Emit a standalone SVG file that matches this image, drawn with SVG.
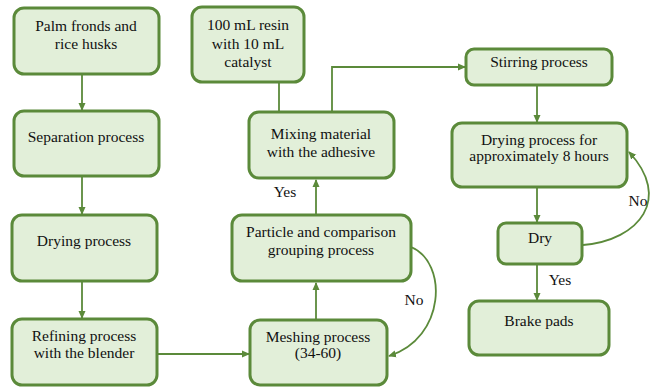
<svg xmlns="http://www.w3.org/2000/svg" width="657" height="389" viewBox="0 0 657 389">
<defs>
<style>
.box{fill:#e2efd9;stroke:#5b8a3a;stroke-width:3}
.t{font-family:'Liberation Serif','Times New Roman','DejaVu Serif',serif;font-size:15.5px;fill:#111;text-anchor:middle}
.c{fill:none;stroke:#5b8a3a;stroke-width:1.8}
</style>
<marker id="ah" markerWidth="8" markerHeight="8" refX="7" refY="4" orient="auto" markerUnits="userSpaceOnUse">
<path d="M0,0.5 L8,4 L0,7.5 Z" fill="#5b8a3a"/>
</marker>
</defs>
<rect width="657" height="389" fill="#fff"/>
<g id="connectors">
<line class="c" x1="82" y1="75" x2="82" y2="110" marker-end="url(#ah)"/>
<line class="c" x1="82" y1="177" x2="82" y2="214" marker-end="url(#ah)"/>
<line class="c" x1="82" y1="282" x2="82" y2="318" marker-end="url(#ah)"/>
<line class="c" x1="158" y1="354" x2="249" y2="354" marker-end="url(#ah)"/>
<line class="c" x1="316" y1="320" x2="316" y2="283" marker-end="url(#ah)"/>
<line class="c" x1="316" y1="214" x2="316" y2="180" marker-end="url(#ah)"/>
<line class="c" x1="279" y1="83" x2="279" y2="111"/>
<polyline class="c" points="332,111 332,67 465,67" marker-end="url(#ah)"/>
<line class="c" x1="537" y1="86" x2="537" y2="122" marker-end="url(#ah)"/>
<line class="c" x1="537" y1="188" x2="537" y2="222" marker-end="url(#ah)"/>
<line class="c" x1="537" y1="265" x2="537" y2="300" marker-end="url(#ah)"/>
<path class="c" d="M583,245 C640,240 672,198 629,152" marker-end="url(#ah)"/>
<path class="c" d="M411,247 C448,262 446,338 389,356" marker-end="url(#ah)"/>
<text class="t" x="285" y="197">Yes</text>
<text class="t" x="560" y="285">Yes</text>
<text class="t" x="414" y="305">No</text>
<text class="t" x="638" y="206">No</text>
</g>
<g id="n1"><rect class="box" x="14" y="8" width="145" height="66" rx="10"/>
<text class="t" x="86" y="31">Palm fronds and</text><text class="t" x="86" y="49">rice husks</text></g>
<g id="n2"><rect class="box" x="14" y="111" width="145" height="65" rx="10"/>
<text class="t" x="86" y="142">Separation process</text></g>
<g id="n3"><rect class="box" x="12" y="215" width="145" height="66" rx="10"/>
<text class="t" x="84" y="246">Drying process</text></g>
<g id="n4"><rect class="box" x="12" y="319" width="145" height="66" rx="10"/>
<text class="t" x="84" y="341">Refining process</text><text class="t" x="84" y="358">with the blender</text></g>
<g id="n5"><rect class="box" x="192" y="7" width="112" height="75" rx="10"/>
<text class="t" x="248" y="30">100 mL resin</text><text class="t" x="248" y="49">with 10 mL</text><text class="t" x="248" y="67">catalyst</text></g>
<g id="n6"><rect class="box" x="249" y="112" width="145" height="66" rx="10"/>
<text class="t" x="321" y="139">Mixing material</text><text class="t" x="321" y="157">with the adhesive</text></g>
<g id="n7"><rect class="box" x="232" y="215" width="179" height="66" rx="10"/>
<text class="t" x="321" y="237">Particle and comparison</text><text class="t" x="321" y="255">grouping process</text></g>
<g id="n8"><rect class="box" x="250" y="320" width="137" height="65" rx="10"/>
<text class="t" x="318" y="342">Meshing process</text><text class="t" x="318" y="358">(34-60)</text></g>
<g id="n9"><rect class="box" x="466" y="49" width="146" height="36" rx="8"/>
<text class="t" x="539" y="67">Stirring process</text></g>
<g id="n10"><rect class="box" x="452" y="123" width="175" height="64" rx="10"/>
<text class="t" x="539" y="145">Drying process for</text><text class="t" x="539" y="161">approximately 8 hours</text></g>
<g id="n11"><rect class="box" x="498" y="223" width="84" height="41" rx="8"/>
<text class="t" x="540" y="243">Dry</text></g>
<g id="n12"><rect class="box" x="469" y="301" width="140" height="54" rx="10"/>
<text class="t" x="539" y="326">Brake pads</text></g>
</svg>
